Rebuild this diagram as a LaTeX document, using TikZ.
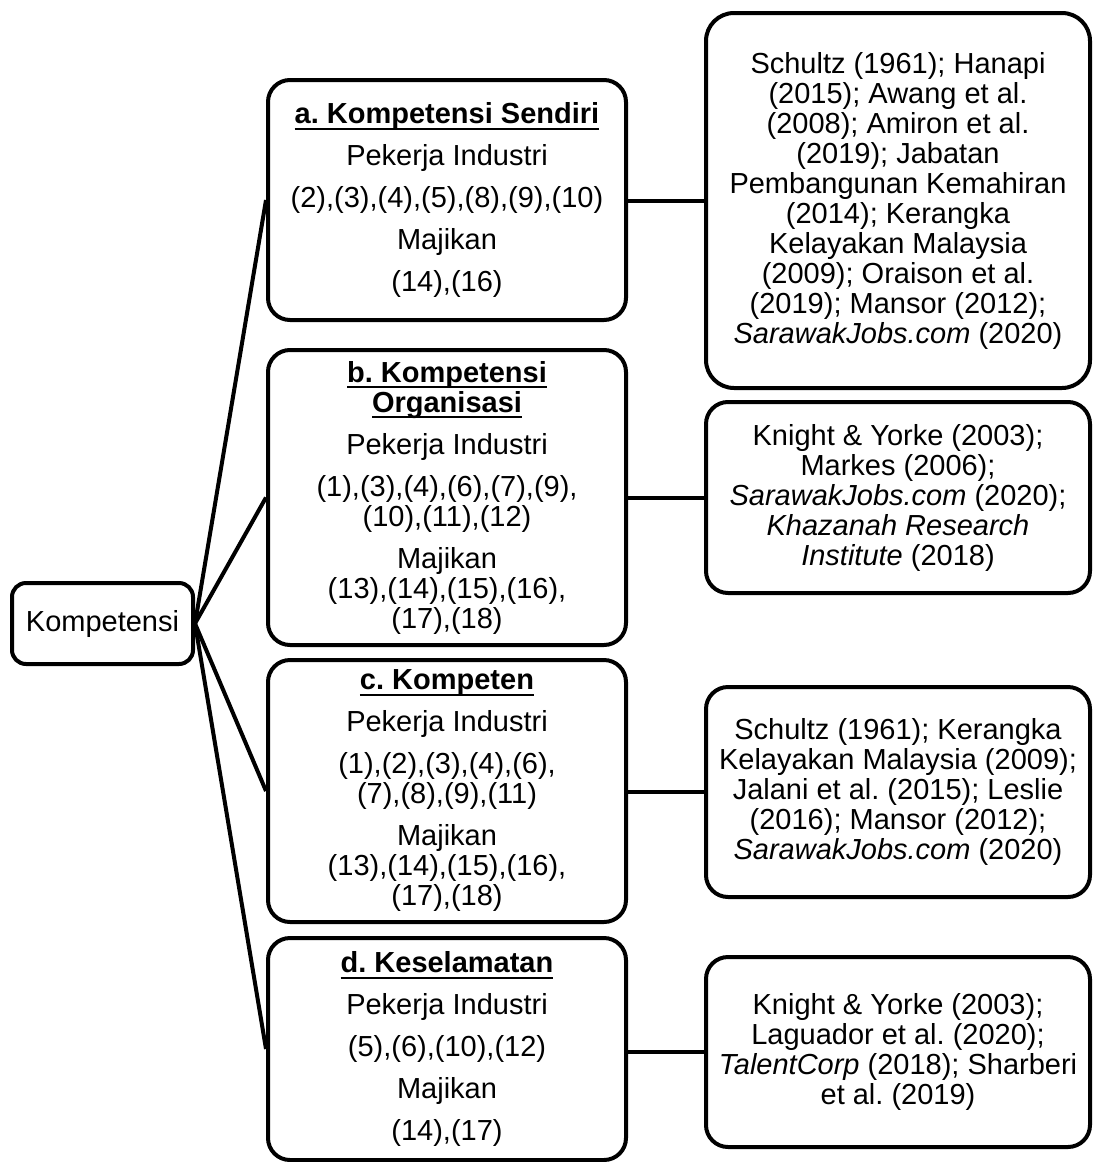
\documentclass[tikz,border=0pt]{standalone}
\usepackage{fontspec}
\setmainfont{Liberation Sans}
\usepackage{tikz}
\tikzset{
Kotak/.style={
 draw=black, 
 line width=2pt, 
 rounded corners=11pt, 
 align=center, 
 inner sep=0pt, 
 font=\fontsize{14.5}{15}\selectfont
 },
KotakTengah/.style={
 Kotak, 
 minimum width=179pt
 },
KotakKanan/.style={
 Kotak, 
 minimum width=192pt
 },
Garis/.style={
 draw=black, 
 line width=2pt
 }
}
\newcommand{\Tajuk}[1]{\setbox0\hbox{\bfseries #1}\rlap{\rule[-3pt]{\wd0}{1pt}}\box0}
\frenchspacing

\begin{document}
\begin{tikzpicture}[x=0.5pt,y=-0.5pt]
\useasboundingbox (0,0) rectangle (1095,1162);
\node[Kotak, rounded corners=7pt, minimum width=90.5pt, minimum height=40.5pt] (komp) at (102.5,623.5) {Kompetensi};
\node[KotakTengah, minimum height=120pt] (a) at (447,200) {\Tajuk{a. Kompetensi Sendiri}\\[6pt] Pekerja Industri\\[6pt] (2),(3),(4),(5),(8),(9),(10)\\[6pt] Majikan\\[6pt] (14),(16)};
\node[KotakTengah, minimum height=147.5pt] (b) at (447,497.5) {\Tajuk{b. Kompetensi}\\ \Tajuk{Organisasi}\\[6pt] Pekerja Industri\\[6pt] (1),(3),(4),(6),(7),(9),\\ (10),(11),(12)\\[6pt] Majikan\\ (13),(14),(15),(16),\\ (17),(18)};
\node[KotakTengah, minimum height=131pt] (c) at (447,791) {\Tajuk{c. Kompeten}\\[6pt] Pekerja Industri\\[6pt] (1),(2),(3),(4),(6),\\ (7),(8),(9),(11)\\[6pt] Majikan\\ (13),(14),(15),(16),\\ (17),(18)};
\node[KotakTengah, minimum height=111pt] (d) at (447,1049) {\Tajuk{d. Keselamatan}\\[6pt] Pekerja Industri\\[6pt] (5),(6),(10),(12)\\[6pt] Majikan\\[6pt] (14),(17)};
\node[KotakKanan, rounded corners=14pt, minimum height=187.5pt] (ra) at (898,200.5) {Schultz (1961); Hanapi\\ (2015); Awang et al.\\ (2008); Amiron et al.\\ (2019); Jabatan\\ Pembangunan Kemahiran\\ (2014); Kerangka\\ Kelayakan Malaysia\\ (2009); Oraison et al.\\ (2019); Mansor (2012);\\ \textit{SarawakJobs.com} (2020)};
\node[KotakKanan, minimum height=95.5pt] (rb) at (898,497.5) {Knight \& Yorke (2003);\\ Markes (2006);\\ \textit{SarawakJobs.com} (2020);\\ \textit{Khazanah Research}\\ \textit{Institute} (2018)};
\node[KotakKanan, minimum height=105pt] (rc) at (898,792) {Schultz (1961); Kerangka\\ Kelayakan Malaysia (2009);\\ Jalani et al. (2015); Leslie\\ (2016); Mansor (2012);\\ \textit{SarawakJobs.com} (2020)};
\node[KotakKanan, minimum height=95pt] (rd) at (898,1052) {Knight \& Yorke (2003);\\ Laguador et al. (2020);\\ \textit{TalentCorp} (2018); Sharberi\\ et al. (2019)};
\draw[Garis] (komp.east) -- (a.west);
\draw[Garis] (komp.east) -- (b.west);
\draw[Garis] (komp.east) -- (c.west);
\draw[Garis] (komp.east) -- (d.west);
\draw[Garis] (a.east |- ra.west) -- (ra.west);
\draw[Garis] (b.east |- rb.west) -- (rb.west);
\draw[Garis] (c.east |- rc.west) -- (rc.west);
\draw[Garis] (d.east |- rd.west) -- (rd.west);
\end{tikzpicture}
\end{document}
